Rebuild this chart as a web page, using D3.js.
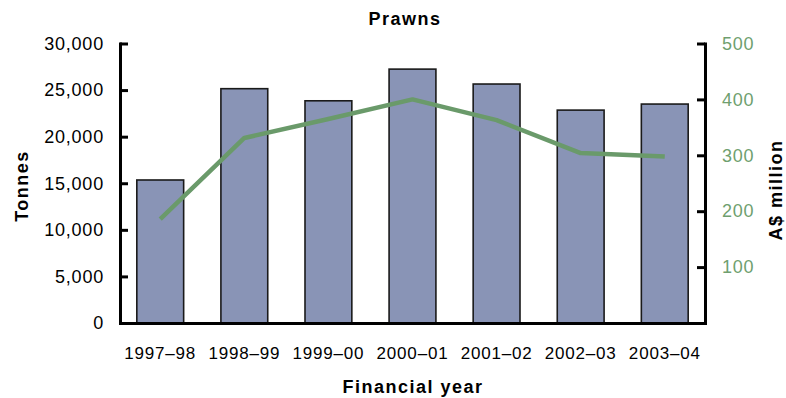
<!DOCTYPE html>
<html><head><meta charset="utf-8">
<script src="https://cdn.jsdelivr.net/npm/d3@7"></script>
<style>body{margin:0;background:#fff} svg text{font-family:"Liberation Sans",Arial,sans-serif}</style>
</head><body><svg id="c" width="786" height="398"></svg>
<script>
const categories = ["1997–98","1998–99","1999–00","2000–01","2001–02","2002–03","2003–04"];
const tonnes = [15350,25150,23850,27250,25650,22850,23500];
const valueAUD = [186,331,365,400,363,304,298];
const leftTicks = [0,5000,10000,15000,20000,25000,30000];
const rightTicks = [100,200,300,400,500];
const title = "Prawns";
const xTitle = "Financial year";
const yLeftTitle = "Tonnes";
const yRightTitle = "A$ million";

const L = 120, R = 705, T = 43.5, B = 323;
const barFill = "#8994b6", green = "#6a9a6a", greenText = "#6f9f6f";
const svg = d3.select("#c");

const x = d3.scaleBand().domain(categories).range([L, R]).paddingInner(0.443).paddingOuter(0.2);
const yL = d3.scaleLinear().domain([0, 30000]).range([B, T]);
const yR = d3.scaleLinear().domain([0, 500]).range([B, T]);

// bars
svg.append("g").selectAll("rect").data(categories).join("rect")
  .attr("x", d => x(d)).attr("width", x.bandwidth())
  .attr("y", (d, i) => yL(tonnes[i])).attr("height", (d, i) => B - yL(tonnes[i]))
  .attr("fill", barFill).attr("stroke", "#1a1a1a").attr("stroke-width", 1.6);

// line
const line = d3.line().x((d, i) => x(categories[i]) + x.bandwidth() / 2).y(d => yR(d));
svg.append("path").datum(valueAUD).attr("d", line)
  .attr("fill", "none").attr("stroke", green).attr("stroke-width", 4.5).attr("stroke-linejoin", "round");

function styleAxis(g, color, size) {
  g.select(".domain").attr("stroke", "#000").attr("stroke-width", 3).attr("stroke-linecap", "square");
  g.selectAll(".tick line").attr("stroke", "#000").attr("stroke-width", 3);
  g.selectAll(".tick text").attr("fill", color).attr("font-size", size)
    .attr("font-family", "'Liberation Sans', Arial, sans-serif").attr("letter-spacing", "0.8px");
}

// left axis
const gl = svg.append("g").attr("transform", `translate(${L},0)`)
  .call(d3.axisLeft(yL).tickValues(leftTicks).tickFormat(d3.format(",")).tickSizeInner(-8).tickSizeOuter(0).tickPadding(16));
styleAxis(gl, "#000", 18);
// right axis
const gr = svg.append("g").attr("transform", `translate(${R},0)`)
  .call(d3.axisRight(yR).tickValues(rightTicks).tickSizeInner(-8).tickSizeOuter(0).tickPadding(17));
styleAxis(gr, greenText, 18);
// bottom axis
const gb = svg.append("g").attr("transform", `translate(0,${B})`)
  .call(d3.axisBottom(x).tickSize(0).tickSizeOuter(0).tickPadding(24));
styleAxis(gb, "#000", 17);

// titles
const bold = s => s.attr("font-weight", "bold").attr("font-size", 18).attr("letter-spacing", "1.5px").attr("fill", "#000");
svg.append("text").text(title).attr("x", 405).attr("y", 25).attr("text-anchor", "middle").call(bold);
svg.append("text").text(xTitle).attr("x", 413).attr("y", 393).attr("text-anchor", "middle").call(bold);
svg.append("text").text(yLeftTitle).attr("transform", "translate(28,186) rotate(-90)").attr("text-anchor", "middle").call(bold);
svg.append("text").text(yRightTitle).attr("transform", "translate(782,190) rotate(-90)").attr("text-anchor", "middle").call(bold);
</script></body></html>
